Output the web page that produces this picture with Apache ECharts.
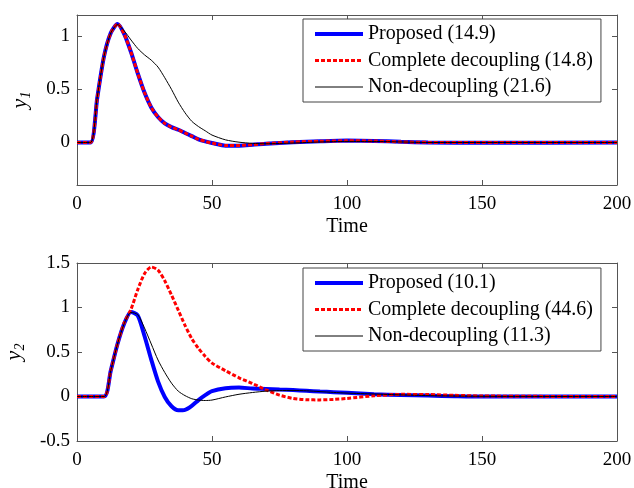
<!DOCTYPE html>
<html>
<head>
<meta charset="utf-8">
<script src="https://cdn.jsdelivr.net/npm/echarts@6/dist/echarts.min.js"></script>
<style>
  html, body { margin: 0; padding: 0; background: #fff; }
  #chart { width: 634px; height: 488px; }
</style>
</head>
<body>
<div id="chart"></div>
<script>
// Top panel (y1) samples
const tTop = [0, 5, 7.5, 10, 12.5, 15, 17.5, 20, 22.5, 25, 27.5, 30, 32.5, 35, 37.5, 40, 42.5, 45, 47.5, 50, 55, 60, 65, 70, 80, 90, 100, 110, 120, 130, 150, 200];
const y1Proposed = [0, 0, 0.42, 0.81, 1.03, 1.115, 1.02, 0.85, 0.65, 0.47, 0.33, 0.24, 0.18, 0.145, 0.12, 0.09, 0.06, 0.03, 0.01, -0.005, -0.03, -0.03, -0.022, -0.012, 0.003, 0.012, 0.018, 0.015, 0.006, 0, -0.003, 0];
const y1Complete = [0, 0, 0.42, 0.81, 1.03, 1.115, 1.02, 0.85, 0.65, 0.47, 0.33, 0.24, 0.18, 0.145, 0.12, 0.09, 0.06, 0.03, 0.01, -0.005, -0.028, -0.028, -0.02, -0.01, 0.004, 0.012, 0.016, 0.014, 0.006, 0.001, 0, 0];
const y1NonDec = [0, 0, 0.43, 0.81, 1.03, 1.11, 1.05, 0.965, 0.885, 0.825, 0.775, 0.71, 0.61, 0.5, 0.38, 0.28, 0.2, 0.15, 0.11, 0.07, 0.025, 0.003, -0.008, -0.012, -0.005, 0.005, 0.01, 0.01, 0.005, 0, 0, 0];

// Bottom panel (y2) samples
const tBot = [0, 10, 12.5, 15, 17.5, 20, 22.5, 25, 27.5, 30, 32.5, 35, 37.5, 40, 42.5, 45, 47.5, 50, 55, 60, 65, 70, 75, 80, 85, 90, 95, 100, 110, 120, 130, 140, 150, 175, 200];
const y2Proposed = [0, 0, 0.29, 0.59, 0.82, 0.95, 0.91, 0.68, 0.415, 0.17, -0.005, -0.11, -0.155, -0.15, -0.105, -0.04, 0.015, 0.06, 0.093, 0.1, 0.09, 0.085, 0.078, 0.072, 0.064, 0.056, 0.049, 0.042, 0.026, 0.016, 0.01, 0.004, 0, 0, 0];
const y2Complete = [0, 0, 0.29, 0.59, 0.83, 0.98, 1.2, 1.38, 1.455, 1.42, 1.3, 1.14, 0.97, 0.8, 0.65, 0.54, 0.45, 0.375, 0.29, 0.21, 0.145, 0.075, 0.015, -0.022, -0.037, -0.038, -0.033, -0.022, 0.008, 0.024, 0.022, 0.013, 0.006, 0.001, 0];
const y2NonDec = [0, 0, 0.29, 0.59, 0.82, 0.945, 0.92, 0.77, 0.59, 0.41, 0.27, 0.15, 0.06, 0.01, -0.025, -0.04, -0.045, -0.04, -0.005, 0.025, 0.045, 0.06, 0.066, 0.068, 0.064, 0.055, 0.046, 0.038, 0.028, 0.018, 0.01, 0.005, 0.002, 0, 0];

const names1 = ['Proposed (14.9)', 'Complete decoupling (14.8)', 'Non-decoupling (21.6)'];
const names2 = ['Proposed (10.1)', 'Complete decoupling (44.6)', 'Non-decoupling (11.3)'];

const SERIF = "'Liberation Serif', 'Times New Roman', serif";
const AXIS_COLOR = '#555';

const pairs = (ts, ys) => ts.map((t, i) => [t, ys[i]]);

function xAxes(gridIndex) {
  const base = {
    type: 'value', gridIndex, min: 0, max: 200, interval: 50,
    axisLine: { show: true, onZero: false, lineStyle: { color: AXIS_COLOR } },
    axisTick: { show: true, inside: true, length: 5, lineStyle: { color: AXIS_COLOR } },
    splitLine: { show: false },
  };
  return [
    {
      ...base, position: 'bottom',
      name: 'Time', nameLocation: 'middle', nameGap: 32,
      nameTextStyle: { color: '#000', fontFamily: SERIF, fontSize: 20 },
      axisLabel: { color: '#000', fontFamily: SERIF, fontSize: 19, margin: 10 },
    },
    { ...base, position: 'top', axisLabel: { show: false } },
  ];
}

function yAxes(gridIndex, min, max, ticks, sub, gap) {
  const base = {
    type: 'value', gridIndex, min, max,
    axisLine: { show: true, onZero: false, lineStyle: { color: AXIS_COLOR } },
    axisTick: { show: true, inside: true, length: 5, customValues: ticks, lineStyle: { color: AXIS_COLOR } },
    splitLine: { show: false },
  };
  return [
    {
      ...base, position: 'left',
      name: '{v|y}{s|' + sub + '}', nameLocation: 'middle', nameRotate: 90, nameGap: gap,
      nameTextStyle: {
        color: '#000',
        rich: {
          v: { fontFamily: SERIF, fontStyle: 'italic', fontSize: 22, color: '#000', lineHeight: 26 },
          s: { fontFamily: SERIF, fontStyle: 'italic', fontSize: 14, color: '#000', verticalAlign: 'bottom', lineHeight: 14 },
        },
      },
      axisLabel: { color: '#000', fontFamily: SERIF, fontSize: 19, margin: 7, customValues: ticks },
    },
    { ...base, position: 'right', axisLabel: { show: false } },
  ];
}

function seriesFor(names, ts, a, b, c, axisIdx) {
  return [
    {
      name: names[0], type: 'line', xAxisIndex: axisIdx, yAxisIndex: axisIdx,
      data: pairs(ts, a), symbol: 'none', smooth: 0.25,
      lineStyle: { color: '#0000ff', width: 4 }, itemStyle: { color: '#0000ff' },
    },
    {
      name: names[1], type: 'line', xAxisIndex: axisIdx, yAxisIndex: axisIdx,
      data: pairs(ts, b), symbol: 'none', smooth: 0.25,
      lineStyle: { color: '#ff0000', width: 3, type: [4, 2] }, itemStyle: { color: '#ff0000' },
    },
    {
      name: names[2], type: 'line', xAxisIndex: axisIdx, yAxisIndex: axisIdx,
      data: pairs(ts, c), symbol: 'none', smooth: 0.25,
      lineStyle: { color: '#000', width: 1 }, itemStyle: { color: '#000' },
    },
  ];
}

function legendFor(names, top) {
  return {
    data: names, orient: 'vertical', left: 303, top,
    itemWidth: 48, itemHeight: 14, itemGap: 6.5,
    padding: [5, 8, 5, 10],
    borderColor: '#444', borderWidth: 1, backgroundColor: '#fff',
    selectedMode: false,
    itemStyle: { opacity: 0 },  // hide the symbol, keep the line sample
    lineStyle: { width: 'inherit' },
    textStyle: { color: '#000', fontFamily: SERIF, fontSize: 20, lineHeight: 20 },
  };
}

const chart = echarts.init(document.getElementById('chart'), null, { renderer: 'canvas' });

chart.setOption({
  animation: false,
  backgroundColor: '#fff',
  grid: [
    { left: 77, top: 15, width: 540, height: 170, containLabel: false, outerBoundsMode: 'none' },
    { left: 77, top: 263, width: 540, height: 178, containLabel: false, outerBoundsMode: 'none' },
  ],
  xAxis: [...xAxes(0), ...xAxes(1)],
  yAxis: [
    ...yAxes(0, -0.4, 1.2, [0, 0.5, 1], '1', 44),
    ...yAxes(1, -0.5, 1.5, [-0.5, 0, 0.5, 1, 1.5], '2', 50),
  ],
  legend: [legendFor(names1, 19), legendFor(names2, 268)],
  series: [
    ...seriesFor(names1, tTop, y1Proposed, y1Complete, y1NonDec, 0),
    ...seriesFor(names2, tBot, y2Proposed, y2Complete, y2NonDec, 2),
  ],
});
</script>
</body>
</html>
